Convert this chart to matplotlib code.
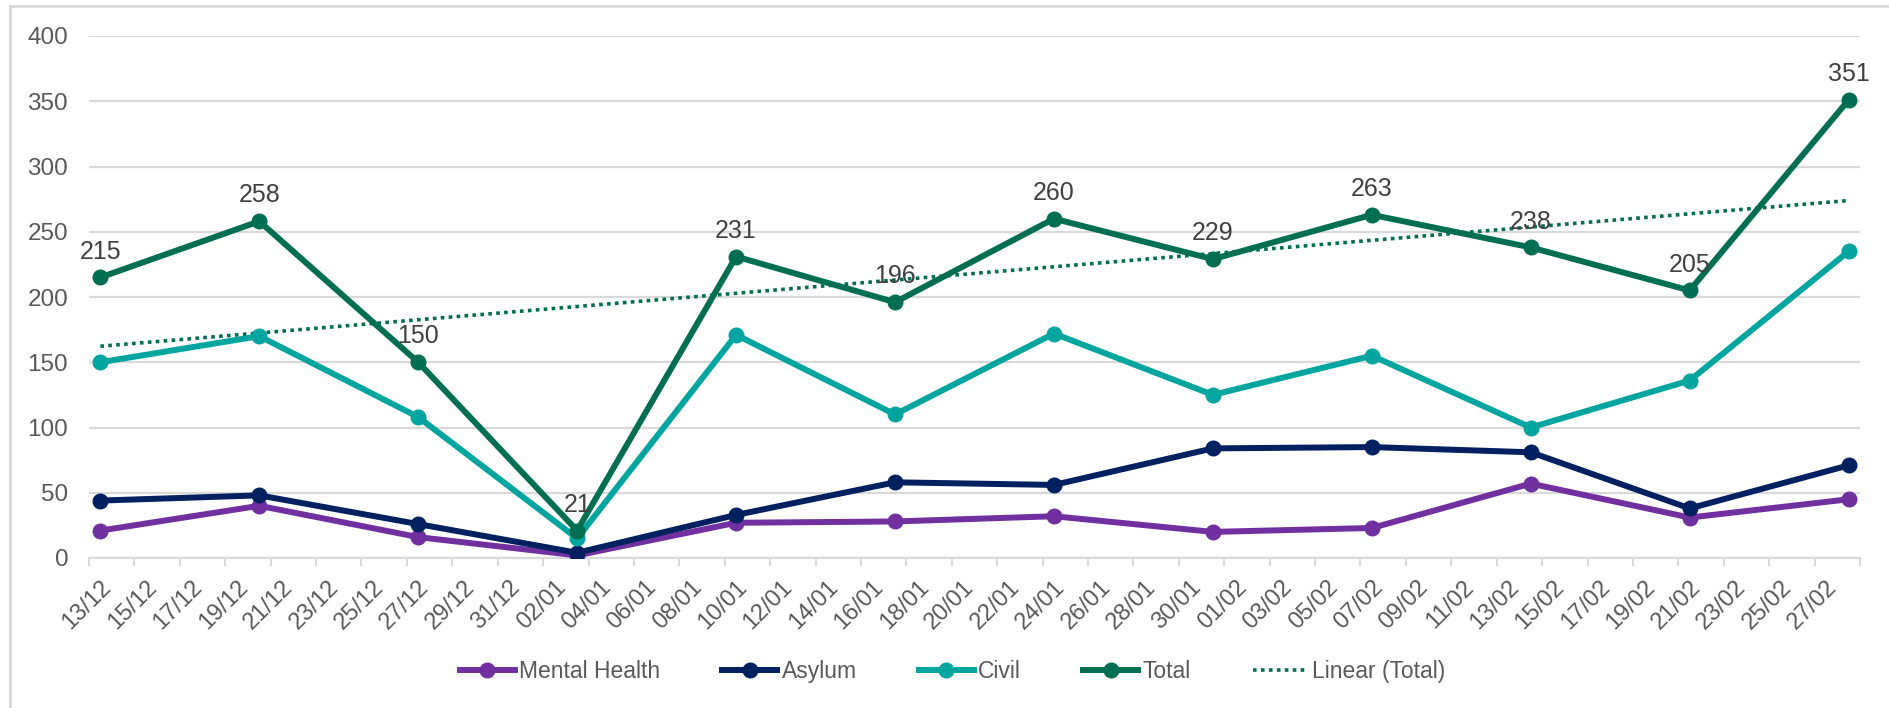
import numpy as np
import pandas as pd
import matplotlib
matplotlib.use("Agg")
import matplotlib.pyplot as plt
from matplotlib.lines import Line2D

plt.rcParams['font.family'] = ['Liberation Sans', 'DejaVu Sans']

# weekly counts
week_dates = ['13/12/2020', '20/12/2020', '27/12/2020', '03/01/2021', '10/01/2021', '17/01/2021',
              '24/01/2021', '31/01/2021', '07/02/2021', '14/02/2021', '21/02/2021', '28/02/2021']
mental_health = [21, 40, 16, 2, 27, 28, 32, 20, 23, 57, 31, 45]
asylum = [44, 48, 26, 4, 33, 58, 56, 84, 85, 81, 38, 71]
civil = [150, 170, 108, 15, 171, 110, 172, 125, 155, 100, 136, 235]
total = [215, 258, 150, 21, 231, 196, 260, 229, 263, 238, 205, 351]

dates = pd.to_datetime(week_dates, dayfirst=True)
start = dates[0]
# day index on a date axis, each day is one category centred at +0.5
xpos = np.array([(d - start).days for d in dates]) + 0.5
n_days = (dates[-1] - start).days + 1
all_days = pd.date_range(start, dates[-1], freq='D')

col_mh = '#7030A0'
col_as = '#002060'
col_ci = '#00A5A0'
col_to = '#006E51'
txt = '#595959'
grid = '#D9D9D9'

fig = plt.figure(figsize=(18.9, 7.08), dpi=100)
ax = fig.add_axes([89 / 1890, 1 - 558 / 708, (1860 - 89) / 1890, (558 - 36) / 708])

lw = 4.3
ms = 10.5
ax.plot(xpos, mental_health, color=col_mh, lw=lw, marker='o', ms=ms, label='Mental Health', zorder=3)
ax.plot(xpos, asylum, color=col_as, lw=lw, marker='o', ms=ms, label='Asylum', zorder=3)
ax.plot(xpos, civil, color=col_ci, lw=lw, marker='o', ms=ms, label='Civil', zorder=3)
ax.plot(xpos, total, color=col_to, lw=lw, marker='o', ms=ms, label='Total', zorder=4)

# linear trend of the total
k, b = np.polyfit(xpos, total, 1)
ax.plot(xpos[[0, -1]], k * xpos[[0, -1]] + b, color=col_to, lw=2.6, ls=(0, (1, 1.2)),
        label='Linear (Total)', zorder=2)

for x, v in zip(xpos, total):
    ax.annotate(str(v), (x, v), xytext=(0, 10), textcoords='offset points',
                ha='center', va='bottom', fontsize=18, color='#404040', zorder=5)

ax.set_xlim(0, n_days)
ax.set_ylim(0, 400)
ax.set_yticks(range(0, 401, 50))
ax.yaxis.grid(True, color=grid, lw=1.6)
ax.set_axisbelow(True)
ax.tick_params(axis='y', length=0, labelsize=17.5, labelcolor=txt, pad=15)

# tick marks at day boundaries every 2 days, labels at day centres
ax.set_xticks(np.arange(0, n_days + 1, 2))
ax.set_xticklabels([])
ax.tick_params(axis='x', which='major', length=6, width=1.5, color=grid)
lab_idx = np.arange(0, n_days, 2)
ax.set_xticks(lab_idx + 0.5, minor=True)
ax.set_xticklabels([all_days[i].strftime('%d/%m') for i in lab_idx], minor=True,
                   rotation=45, ha='right', va='top', rotation_mode='anchor')
ax.tick_params(axis='x', which='minor', length=0, labelsize=17, labelcolor=txt, pad=13)

for s in ['top', 'right', 'left']:
    ax.spines[s].set_visible(False)
ax.spines['bottom'].set_color(grid)
ax.spines['bottom'].set_linewidth(1.6)

leg = fig.legend(loc='center', bbox_to_anchor=(0.504, 0.052), ncol=5, frameon=False,
                 fontsize=16.5, handlelength=2.4, columnspacing=2.7, handletextpad=0.2)
for t in leg.get_texts():
    t.set_color(txt)

# chart border (left and top edges)
fig.add_artist(Line2D([10 / 1890, 10 / 1890], [0, 1 - 6 / 708], transform=fig.transFigure,
                      color='#D9D9D9', lw=2))
fig.add_artist(Line2D([10 / 1890, 1], [1 - 6 / 708, 1 - 6 / 708], transform=fig.transFigure,
                      color='#D9D9D9', lw=2))

fig.savefig('out.png', dpi=100)
